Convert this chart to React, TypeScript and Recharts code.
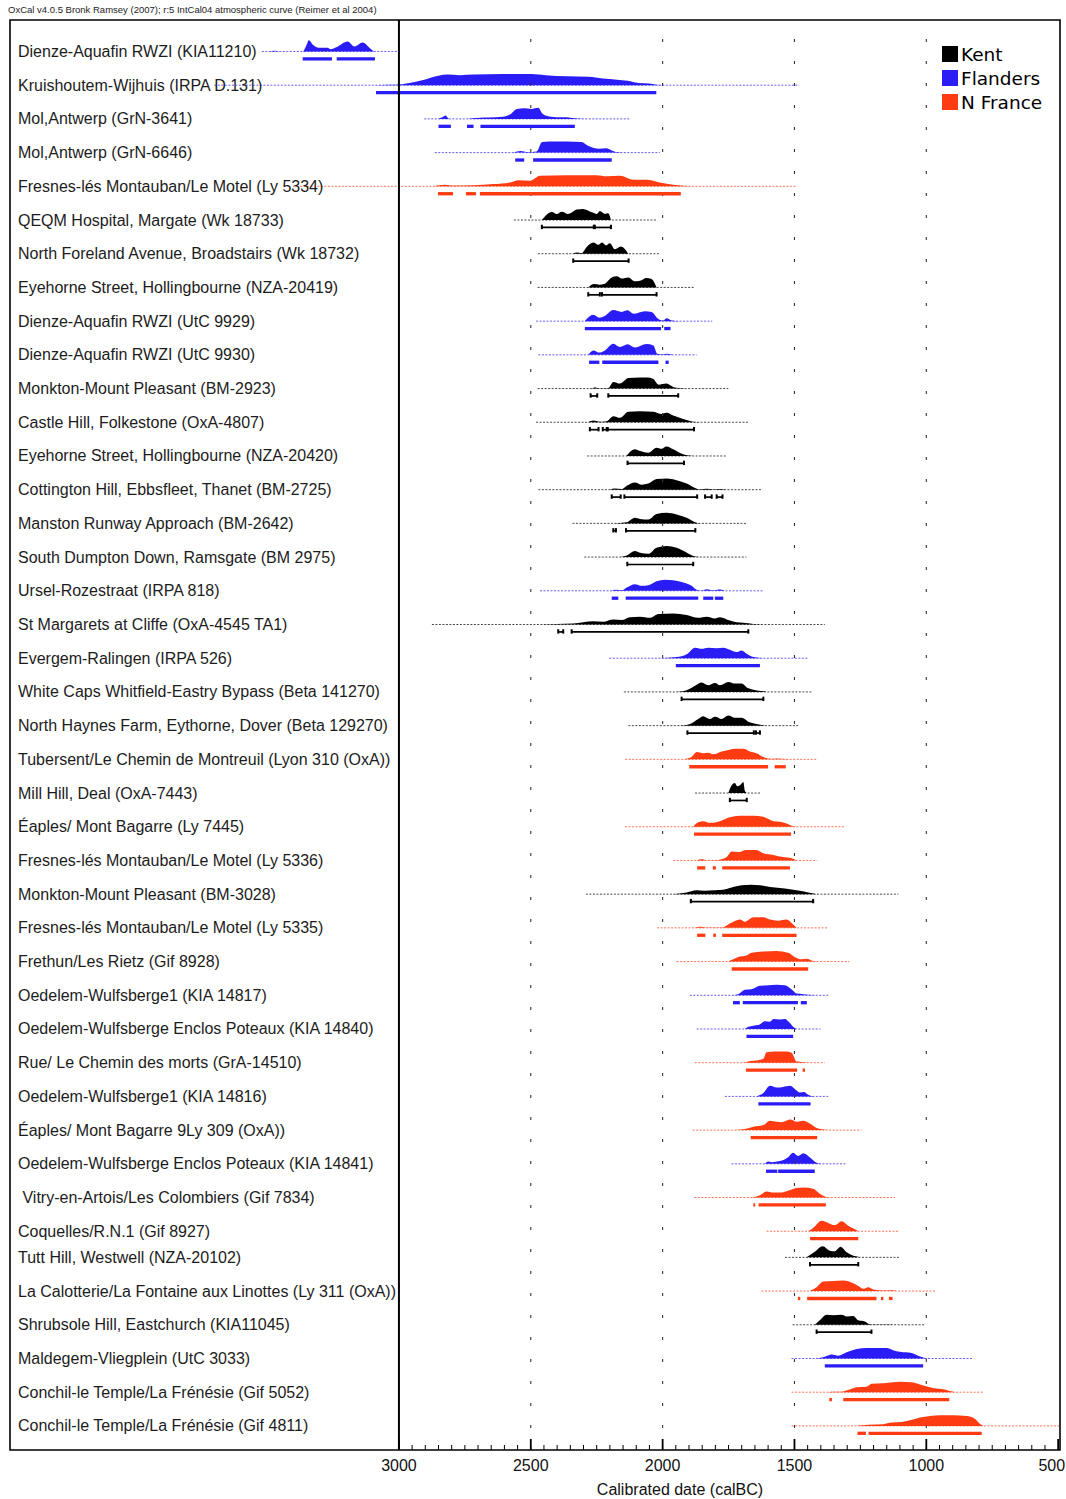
import React from 'react';
import { ComposedChart, Area, XAxis, YAxis, ReferenceLine, ReferenceArea, Legend } from 'recharts';

// row labels, top to bottom
const SAMPLES = [
  'Dienze-Aquafin RWZI (KIA11210)',
  'Kruishoutem-Wijhuis (IRPA D.131)',
  'Mol,Antwerp (GrN-3641)',
  'Mol,Antwerp (GrN-6646)',
  'Fresnes-lés Montauban/Le Motel (Ly 5334)',
  'QEQM Hospital, Margate (Wk 18733)',
  'North Foreland Avenue, Broadstairs (Wk 18732)',
  'Eyehorne Street, Hollingbourne (NZA-20419)',
  'Dienze-Aquafin RWZI (UtC 9929)',
  'Dienze-Aquafin RWZI (UtC 9930)',
  'Monkton-Mount Pleasant (BM-2923)',
  'Castle Hill, Folkestone (OxA-4807)',
  'Eyehorne Street, Hollingbourne (NZA-20420)',
  'Cottington Hill, Ebbsfleet, Thanet (BM-2725)',
  'Manston Runway Approach (BM-2642)',
  'South Dumpton Down, Ramsgate (BM 2975)',
  'Ursel-Rozestraat (IRPA 818)',
  'St Margarets at Cliffe (OxA-4545 TA1)',
  'Evergem-Ralingen (IRPA 526)',
  'White Caps Whitfield-Eastry Bypass (Beta 141270)',
  'North Haynes Farm, Eythorne, Dover (Beta 129270)',
  'Tubersent/Le Chemin de Montreuil (Lyon 310 (OxA))',
  'Mill Hill, Deal (OxA-7443)',
  'Éaples/ Mont Bagarre (Ly 7445)',
  'Fresnes-lés Montauban/Le Motel (Ly 5336)',
  'Monkton-Mount Pleasant (BM-3028)',
  'Fresnes-lés Montauban/Le Motel (Ly 5335)',
  'Frethun/Les Rietz (Gif 8928)',
  'Oedelem-Wulfsberge1 (KIA 14817)',
  'Oedelem-Wulfsberge Enclos Poteaux (KIA 14840)',
  'Rue/ Le Chemin des morts (GrA-14510)',
  'Oedelem-Wulfsberge1 (KIA 14816)',
  'Éaples/ Mont Bagarre 9Ly 309 (OxA))',
  'Oedelem-Wulfsberge Enclos Poteaux (KIA 14841)',
  ' Vitry-en-Artois/Les Colombiers (Gif 7834)',
  'Coquelles/R.N.1 (Gif 8927)',
  'Tutt Hill, Westwell (NZA-20102)',
  'La Calotterie/La Fontaine aux Linottes (Ly 311 (OxA))',
  'Shrubsole Hill, Eastchurch (KIA11045)',
  'Maldegem-Vliegplein (UtC 3033)',
  'Conchil-le Temple/La Frénésie (Gif 5052)',
  'Conchil-le Temple/La Frénésie (Gif 4811)',
];

// K = Kent, F = Flanders, N = N France
const REGIONS = [
  'F', 'F', 'F', 'F', 'N', 'K', 'K', 'K', 'F', 'F',
  'K', 'K', 'K', 'K', 'K', 'K', 'F', 'K', 'F', 'K',
  'K', 'N', 'K', 'N', 'N', 'K', 'N', 'N', 'F', 'F',
  'N', 'F', 'N', 'F', 'N', 'N', 'K', 'N', 'K', 'F',
  'N', 'N',
];

// thin dotted extent of each row (calBC, older first)
const SPANS: [number, number][] = [
  [3520, 3000], [3700, 1482], [2904, 2122], [2864, 2011], [3402, 1490],
  [2564, 2022], [2473, 2014], [2474, 1877], [2480, 1812], [2471, 1871],
  [2474, 1751], [2480, 1671], [2286, 1757], [2471, 1621], [2342, 1678],
  [2297, 1682], [2465, 1618], [2875, 1385], [2202, 1448], [2147, 1431],
  [2130, 1486], [2142, 1416], [1877, 1628], [2143, 1309], [1960, 1414],
  [2291, 1106], [2021, 1373], [1947, 1292], [1897, 1372], [1871, 1401],
  [1878, 1385], [1764, 1372], [1886, 1246], [1739, 1302], [1880, 1119],
  [1606, 1103], [1536, 1098], [1625, 964], [1507, 1005], [1511, 822],
  [1511, 784], [1511, 493],
];

// posterior shapes: [year, relative height]
const DISTS: [number, number][][] = [
  [[3490, 0], [3473, 0.06], [3455, 0], [3365, 0], [3350, 0.6], [3342, 1], [3324, 0.55], [3304, 0.33], [3270, 0.33], [3260, 0.2], [3236, 0.4], [3195, 0.9], [3168, 0.45], [3138, 0.8], [3110, 0.3], [3094, 0]],
  [[3094, 0], [3040, 0.05], [3012, 0.05], [2960, 0.2], [2904, 0.5], [2850, 0.85], [2816, 0.95], [2770, 0.9], [2715, 0.95], [2606, 1], [2498, 1], [2444, 0.9], [2363, 0.8], [2281, 0.75], [2227, 0.6], [2173, 0.5], [2133, 0.4], [2092, 0.2], [2052, 0.15], [2024, 0.05], [1997, 0]],
  [[2850, 0], [2836, 0.15], [2823, 0.3], [2810, 0], [2742, 0], [2720, 0.06], [2690, 0.1], [2660, 0.12], [2606, 0.2], [2579, 0.4], [2552, 0.9], [2525, 0.95], [2498, 0.9], [2471, 1], [2457, 0.5], [2444, 0.3], [2403, 0.15], [2363, 0.15], [2336, 0.05], [2295, 0]],
  [[2566, 0], [2539, 0.15], [2512, 0.05], [2478, 0.1], [2457, 0.95], [2430, 1], [2363, 1], [2308, 0.95], [2281, 0.6], [2241, 0.35], [2214, 0.4], [2193, 0.2], [2173, 0.05], [2133, 0]],
  [[2870, 0], [2825, 0.15], [2794, 0.07], [2718, 0.1], [2642, 0.2], [2579, 0.35], [2547, 0.55], [2503, 0.5], [2465, 0.95], [2364, 1], [2250, 1], [2212, 0.9], [2162, 0.95], [2111, 0.6], [2061, 0.6], [2010, 0.35], [1960, 0.15], [1884, 0]],
  [[2458, 0], [2420, 0.73], [2401, 0.55], [2382, 0.75], [2359, 0.55], [2325, 0.95], [2302, 1], [2268, 0.7], [2249, 0.55], [2238, 0.8], [2219, 0.55], [2207, 0.6], [2196, 0]],
  [[2339, 0], [2326, 0.1], [2307, 0.05], [2288, 0.6], [2263, 1], [2244, 0.8], [2229, 1], [2215, 0.75], [2200, 0.95], [2181, 0.4], [2159, 0.65], [2130, 0]],
  [[2282, 0], [2260, 0.3], [2240, 0.25], [2222, 0.3], [2193, 0.9], [2174, 1], [2155, 0.8], [2130, 0.9], [2105, 0.55], [2086, 0.6], [2061, 0.85], [2042, 0.75], [2023, 0]],
  [[2295, 0], [2263, 0.57], [2240, 0.3], [2222, 0.43], [2187, 1], [2155, 0.83], [2133, 0.97], [2111, 0.67], [2067, 0.9], [2042, 0.83], [2016, 0.2], [1997, 0.05], [1985, 0.25], [1966, 0.05], [1934, 0]],
  [[2282, 0], [2263, 0.4], [2240, 0.2], [2222, 0.35], [2187, 1], [2162, 0.7], [2133, 0.95], [2105, 0.65], [2061, 0.97], [2035, 0.85], [2020, 0.1], [1997, 0.05], [1985, 0.1], [1960, 0]],
  [[2269, 0], [2257, 0.1], [2238, 0.03], [2206, 0.05], [2187, 0.6], [2162, 0.45], [2130, 0.95], [2086, 1], [2054, 1], [2035, 0.85], [2016, 0.35], [1985, 0.45], [1960, 0.15], [1934, 0.05], [1909, 0]],
  [[2282, 0], [2263, 0.15], [2238, 0.05], [2212, 0.1], [2187, 0.55], [2162, 0.4], [2130, 0.95], [2086, 1], [2035, 0.95], [2004, 0.75], [1985, 0.85], [1960, 0.6], [1922, 0.3], [1884, 0.05], [1859, 0]],
  [[2137, 0], [2105, 0.6], [2086, 0.45], [2054, 0.3], [2023, 0.75], [2004, 0.65], [1985, 0.85], [1960, 0.6], [1922, 0.15], [1884, 0]],
  [[2200, 0], [2181, 0.1], [2155, 0.05], [2136, 0.35], [2105, 0.65], [2080, 0.45], [2054, 0.55], [2023, 0.95], [1985, 1], [1947, 0.85], [1909, 0.55], [1877, 0.15], [1859, 0.02], [1833, 0.08], [1808, 0.02], [1783, 0.06], [1758, 0]],
  [[2187, 0], [2136, 0.1], [2105, 0.5], [2086, 0.4], [2054, 0.35], [2023, 0.85], [1985, 0.95], [1947, 0.8], [1909, 0.5], [1877, 0.1], [1859, 0]],
  [[2162, 0], [2136, 0.15], [2105, 0.55], [2086, 0.4], [2054, 0.3], [2023, 0.85], [1985, 1], [1947, 0.85], [1916, 0.5], [1884, 0.1], [1859, 0]],
  [[2193, 0], [2177, 0.1], [2155, 0.05], [2136, 0.3], [2105, 0.6], [2080, 0.45], [2054, 0.5], [2023, 0.85], [1991, 1], [1960, 0.95], [1928, 0.8], [1890, 0.45], [1871, 0.1], [1852, 0.02], [1833, 0.15], [1808, 0.05], [1783, 0.12], [1764, 0]],
  [[2465, 0], [2402, 0.05], [2339, 0.1], [2263, 0.3], [2225, 0.25], [2187, 0.45], [2155, 0.4], [2124, 0.65], [2086, 0.7], [2048, 0.6], [2016, 0.95], [1960, 1], [1909, 0.85], [1865, 0.6], [1833, 0.7], [1802, 0.55], [1783, 0.65], [1745, 0.35], [1720, 0.2], [1694, 0.15], [1656, 0.05], [1606, 0]],
  [[2010, 0], [1947, 0.1], [1909, 0.35], [1877, 0.95], [1852, 0.85], [1827, 0.95], [1795, 0.9], [1770, 0.95], [1745, 0.75], [1719, 0.55], [1700, 0.7], [1681, 0.4], [1656, 0.1], [1618, 0]],
  [[1947, 0], [1909, 0.15], [1877, 0.55], [1852, 0.85], [1827, 0.6], [1801, 0.8], [1783, 0.6], [1751, 0.9], [1726, 0.75], [1700, 0.75], [1681, 0.4], [1656, 0.2], [1618, 0.05], [1606, 0]],
  [[1934, 0], [1896, 0.15], [1865, 0.6], [1846, 0.85], [1821, 0.6], [1801, 0.8], [1776, 0.6], [1751, 0.9], [1726, 0.7], [1700, 0.7], [1675, 0.35], [1644, 0.15], [1612, 0]],
  [[1922, 0], [1890, 0.2], [1871, 0.65], [1846, 0.55], [1827, 0.6], [1808, 0.45], [1776, 0.7], [1751, 0.85], [1726, 0.95], [1694, 0.95], [1669, 0.7], [1644, 0.55], [1618, 0.2], [1593, 0.05], [1568, 0.08], [1530, 0.03], [1511, 0]],
  [[1751, 0], [1738, 0.7], [1726, 0.9], [1717, 0.6], [1707, 0.7], [1694, 1], [1688, 0.2], [1681, 0]],
  [[1884, 0], [1865, 0.4], [1846, 0.5], [1821, 0.35], [1783, 0.5], [1745, 0.85], [1707, 1], [1656, 1], [1618, 0.9], [1580, 0.5], [1555, 0.45], [1530, 0.3], [1505, 0.05], [1480, 0]],
  [[1871, 0], [1852, 0.1], [1833, 0.03], [1789, 0.05], [1757, 0.3], [1738, 0.8], [1713, 0.75], [1682, 0.95], [1644, 0.95], [1618, 0.65], [1580, 0.5], [1543, 0.3], [1511, 0.2], [1492, 0]],
  [[1960, 0], [1909, 0.15], [1871, 0.35], [1840, 0.3], [1802, 0.35], [1770, 0.4], [1738, 0.6], [1701, 0.8], [1663, 0.85], [1631, 0.8], [1593, 0.65], [1555, 0.55], [1517, 0.45], [1480, 0.3], [1448, 0.15], [1416, 0]],
  [[1878, 0], [1859, 0.1], [1827, 0.03], [1776, 0.03], [1745, 0.4], [1707, 0.75], [1688, 0.55], [1656, 0.95], [1618, 0.95], [1593, 0.75], [1562, 0.65], [1530, 0.75], [1505, 0.3], [1492, 0]],
  [[1751, 0], [1732, 0.2], [1707, 0.45], [1688, 0.5], [1663, 0.8], [1618, 0.9], [1568, 0.95], [1524, 0.8], [1498, 0.4], [1473, 0.2], [1454, 0.25], [1429, 0.05], [1410, 0]],
  [[1738, 0], [1713, 0.1], [1688, 0.5], [1663, 0.55], [1631, 0.85], [1600, 0.9], [1568, 0.95], [1536, 0.9], [1505, 0.4], [1492, 0.15], [1467, 0.1], [1429, 0.02], [1404, 0]],
  [[1688, 0], [1675, 0.2], [1656, 0.3], [1637, 0.35], [1612, 0.7], [1593, 0.65], [1580, 0.9], [1555, 0.85], [1536, 0.9], [1520, 0.6], [1505, 0.2], [1492, 0]],
  [[1688, 0], [1669, 0.15], [1644, 0.2], [1618, 0.35], [1606, 0.95], [1574, 1], [1530, 1], [1511, 0.9], [1492, 0.1], [1467, 0.05], [1448, 0]],
  [[1644, 0], [1618, 0.3], [1593, 0.95], [1568, 0.8], [1543, 0.85], [1517, 0.95], [1498, 0.65], [1479, 0.35], [1464, 0.4], [1448, 0.15], [1423, 0]],
  [[1732, 0], [1688, 0.1], [1656, 0.3], [1618, 0.45], [1593, 0.85], [1568, 0.75], [1549, 0.7], [1517, 0.95], [1492, 0.75], [1467, 0.85], [1442, 0.6], [1416, 0.2], [1391, 0.05], [1353, 0]],
  [[1612, 0], [1600, 0.2], [1587, 0.15], [1555, 0.25], [1524, 0.6], [1505, 1], [1486, 0.7], [1467, 0.95], [1442, 0.6], [1416, 0.1], [1397, 0]],
  [[1663, 0], [1631, 0.2], [1606, 0.55], [1581, 0.45], [1549, 0.45], [1524, 0.6], [1492, 0.85], [1467, 0.9], [1429, 0.8], [1404, 0.35], [1385, 0.1], [1366, 0]],
  [[1448, 0], [1429, 0.3], [1397, 0.95], [1372, 0.75], [1347, 0.55], [1321, 0.9], [1296, 0.5], [1264, 0.1], [1258, 0]],
  [[1454, 0], [1423, 0.5], [1393, 1], [1366, 0.6], [1347, 0.55], [1325, 0.95], [1302, 0.45], [1277, 0.15], [1258, 0.05], [1252, 0]],
  [[1441, 0], [1416, 0.35], [1391, 0.85], [1353, 0.9], [1315, 0.95], [1277, 0.7], [1258, 0.45], [1239, 0.2], [1220, 0.35], [1201, 0.15], [1163, 0.05], [1132, 0.08], [1113, 0]],
  [[1423, 0], [1404, 0.4], [1378, 0.9], [1353, 0.85], [1321, 0.9], [1302, 0.75], [1277, 0.8], [1258, 0.4], [1233, 0.3], [1220, 0.1], [1201, 0.02], [1138, 0.03], [1126, 0]],
  [[1416, 0], [1385, 0.15], [1359, 0.35], [1334, 0.25], [1302, 0.55], [1264, 0.85], [1226, 0.95], [1189, 0.95], [1151, 0.95], [1126, 0.75], [1100, 0.6], [1056, 0.5], [1031, 0.25], [1005, 0.05], [993, 0]],
  [[1378, 0], [1353, 0.05], [1328, 0.03], [1296, 0.2], [1264, 0.45], [1226, 0.5], [1208, 0.75], [1163, 0.8], [1126, 0.9], [1100, 0.95], [1056, 0.9], [1024, 0.7], [986, 0.45], [955, 0.3], [930, 0.25], [911, 0.1], [892, 0]],
  [[1264, 0], [1239, 0.05], [1220, 0.1], [1163, 0.15], [1132, 0.3], [1094, 0.35], [1062, 0.5], [1024, 0.75], [986, 0.9], [948, 0.95], [898, 0.95], [847, 0.9], [816, 0.65], [797, 0.2], [784, 0]],
];

// 95.4% ranges drawn under each row
const RANGES: [number, number][][] = [
  [[3365, 3254], [3236, 3091]],
  [[3087, 2024]],
  [[2850, 2803], [2742, 2717], [2691, 2333]],
  [[2559, 2525], [2491, 2193]],
  [[2852, 2795], [2746, 2708], [2693, 1931]],
  [[2458, 2261], [2257, 2196]],
  [[2339, 2129]],
  [[2282, 2238], [2230, 2023]],
  [[2295, 2006], [1994, 1970]],
  [[2279, 2240], [2229, 2016], [1989, 1977]],
  [[2273, 2248], [2206, 1941]],
  [[2276, 2243], [2227, 2212], [2208, 1881]],
  [[2133, 1919]],
  [[2193, 2159], [2145, 1869], [1839, 1814], [1795, 1773]],
  [[2187, 2177], [2139, 1876]],
  [[2134, 1884]],
  [[2193, 2168], [2140, 1865], [1846, 1808], [1802, 1770]],
  [[2396, 2377], [2345, 1675]],
  [[1950, 1631]],
  [[1928, 1618]],
  [[1906, 1654], [1646, 1631]],
  [[1899, 1600], [1575, 1533]],
  [[1745, 1681]],
  [[1881, 1513]],
  [[1869, 1838], [1810, 1798], [1774, 1517]],
  [[1893, 1429]],
  [[1869, 1838], [1808, 1798], [1774, 1492]],
  [[1738, 1448]],
  [[1733, 1707], [1696, 1487], [1476, 1453]],
  [[1682, 1505]],
  [[1684, 1490], [1469, 1460]],
  [[1637, 1439]],
  [[1666, 1414]],
  [[1608, 1565], [1562, 1423]],
  [[1656, 1649], [1636, 1381]],
  [[1441, 1258]],
  [[1441, 1258]],
  [[1487, 1478], [1452, 1189], [1172, 1163], [1142, 1128]],
  [[1416, 1208]],
  [[1385, 1012]],
  [[1368, 1358], [1315, 913]],
  [[1261, 1229], [1219, 790]],
];

const GRID_YEARS = [2500, 2000, 1500, 1000];
const YEAR_TICKS = Array.from({ length: 51 }, (_, k) => 3000 - k * 50);

const LEGEND_ITEMS = [
  { key: 'K', name: 'Kent' },
  { key: 'F', name: 'Flanders' },
  { key: 'N', name: 'N France' },
];

const COLORS: Record<string, string> = { K: '#000000', F: '#2a1cf5', N: '#ff3b12' };

const SANS = '"Liberation Sans", Arial, Helvetica, sans-serif';
const X_DOMAIN: [number, number] = [493, 4475];
const Y_DOMAIN: [number, number] = [-0.934, 41.49];
const PEAK = 0.33; // row units
const BAR_DROP = 0.22;

// the reference squeezes the spacing just above Tutt Hill
const slotOf = (i: number) => (i < 36 ? i : i - 0.225);
const SLOTS = SAMPLES.map((_, i) => slotOf(i));

const areaData = DISTS.map((pts, i) =>
  pts.map(([year, h]) => ({ year, v: [SLOTS[i], SLOTS[i] - h * PEAK] }))
);

const RowLabel = (props: any) => {
  const { y, payload } = props;
  const idx = SLOTS.indexOf(payload?.value);
  if (idx < 0) return null;
  return (
    <text x={18} y={y} dominantBaseline="central" fontSize={16} fill="#1c1c1c"
      fontFamily={SANS} style={{ whiteSpace: 'pre' }}>
      {SAMPLES[idx]}
    </text>
  );
};

const YearTick = (props: any) => {
  const { x, y, payload } = props;
  const major = payload.value % 500 === 0;
  // the last label sits against the frame; keep it whole
  const edge = payload.value === 500;
  return (
    <g>
      <line x1={x} x2={x} y1={y} y2={y - (major ? 11 : 5)} stroke="#000" strokeWidth={major ? 1.8 : 1} />
      {major && (
        <text x={edge ? x + 7 : x} y={y + 15} textAnchor={edge ? 'end' : 'middle'} dominantBaseline="central"
          fontSize={16} fill="#111" fontFamily={SANS}>
          {payload.value}
        </text>
      )}
    </g>
  );
};

const LegendBox = () => (
  <div style={{ fontFamily: '"DejaVu Sans", Verdana, sans-serif', fontSize: 18.5, color: '#000' }}>
    {LEGEND_ITEMS.map((it) => (
      <div key={it.key} style={{ display: 'flex', alignItems: 'center', height: 24 }}>
        <span style={{ width: 16, height: 16, background: COLORS[it.key], display: 'inline-block', marginRight: 3 }} />
        <span>{it.name}</span>
      </div>
    ))}
  </div>
);

export default function App() {
  return (
    <div style={{ position: 'absolute', left: 0, top: 0, width: 1066, height: 1499, overflow: 'hidden', background: '#fff' }}>
      <div style={{ position: 'absolute', left: 8, top: 4, fontFamily: SANS, fontSize: 9.5, color: '#222', whiteSpace: 'nowrap' }}>
        OxCal v4.0.5 Bronk Ramsey (2007); r:5 IntCal04 atmospheric curve (Reimer et al 2004)
      </div>
      <div style={{ position: 'absolute', left: 0, top: 0 }}>
        <ComposedChart width={1100} height={1499} margin={{ top: 20, right: 40, bottom: 0, left: 0 }}>
          <XAxis type="number" dataKey="year" domain={X_DOMAIN} reversed allowDataOverflow
            ticks={YEAR_TICKS} interval={0} tickLine={false} axisLine={false} tickSize={0} tickMargin={0}
            height={49} tick={<YearTick />}
            label={{ value: 'Calibrated date (calBC)', position: 'insideBottom', offset: 4, dx: 145, fontSize: 16, fill: '#111', fontFamily: SANS }} />
          <YAxis type="number" domain={Y_DOMAIN} reversed allowDataOverflow width={10}
            ticks={SLOTS} interval={0} tickLine={false} axisLine={false} tick={<RowLabel />} />

          {GRID_YEARS.map((g) => (
            <ReferenceLine key={`g${g}`} x={g} stroke="#333" strokeWidth={1.1} strokeDasharray="3 19" />
          ))}

          {areaData.map((d, i) => (
            <Area key={`a${i}`} data={d} dataKey="v" type="monotone" stroke="none"
              fill={COLORS[REGIONS[i]]} fillOpacity={1} dot={false} activeDot={false} isAnimationActive={false} />
          ))}

          {SPANS.map(([a, b], i) => (
            <ReferenceLine key={`s${i}`} segment={[{ x: a, y: SLOTS[i] }, { x: b, y: SLOTS[i] }]}
              stroke={COLORS[REGIONS[i]]} strokeWidth={0.9} strokeDasharray="2 1.5" strokeOpacity={0.8} />
          ))}

          {RANGES.map((segs, i) =>
            segs.map(([a, b], j) => {
              const y = SLOTS[i] + BAR_DROP;
              const black = REGIONS[i] === 'K';
              const c = COLORS[REGIONS[i]];
              return (
                <React.Fragment key={`r${i}-${j}`}>
                  <ReferenceLine segment={[{ x: a, y }, { x: b, y }]} stroke={c} strokeWidth={black ? 1.7 : 3.3} />
                  {black && (
                    <ReferenceLine segment={[{ x: a, y: y - 0.08 }, { x: a, y: y + 0.05 }]} stroke={c} strokeWidth={2} />
                  )}
                  {black && (
                    <ReferenceLine segment={[{ x: b, y: y - 0.08 }, { x: b, y: y + 0.05 }]} stroke={c} strokeWidth={2} />
                  )}
                </React.Fragment>
              );
            })
          )}

          <ReferenceLine x={3000} stroke="#000" strokeWidth={2} />
          <ReferenceArea x1={X_DOMAIN[1]} x2={X_DOMAIN[0]} y1={Y_DOMAIN[0]} y2={Y_DOMAIN[1]}
            fill="none" stroke="#000" strokeWidth={1.6} ifOverflow="visible" />

          <Legend layout="vertical" verticalAlign="middle" align="center"
            wrapperStyle={{ left: 942, top: 42, width: 120 }} content={<LegendBox />} />
        </ComposedChart>
      </div>
    </div>
  );
}
